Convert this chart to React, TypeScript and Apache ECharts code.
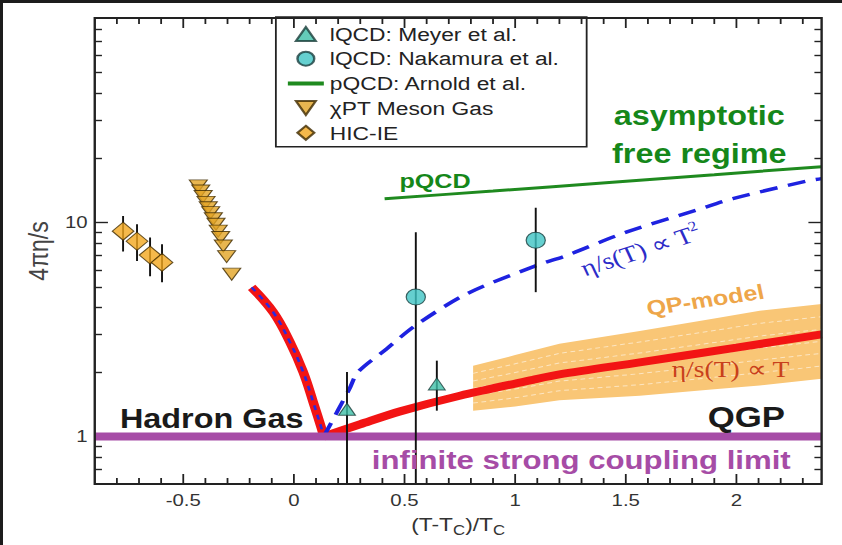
import React, { useEffect, useRef } from "react";
import * as echarts from "echarts";

// ---------- data ----------
const X_MIN = -0.9;
const X_MAX = 2.385;
const Y_MIN = 0.6;
const Y_MAX = 90;

const X_MAJOR = [-0.5, 0, 0.5, 1, 1.5, 2];
const X_MINOR = [-0.8, -0.7, -0.6, -0.4, -0.3, -0.2, -0.1, 0.1, 0.2, 0.3, 0.4, 0.6, 0.7, 0.8, 0.9, 1.1, 1.2, 1.3, 1.4, 1.6, 1.7, 1.8, 1.9, 2.1, 2.2, 2.3];
const Y_MAJOR = [1, 10];
const Y_MINOR = [0.7, 0.8, 0.9, 2, 3, 4, 5, 6, 7, 8, 9, 20, 30, 40, 50, 60, 70, 80];

// lQCD: Meyer et al.
const MEYER_X = [0.24, 0.646];
const MEYER_Y = [1.34, 1.76];
const MEYER_LO = [0.3, 1.32];
const MEYER_HI = [2.0, 2.26];

// lQCD: Nakamura et al.
const NAKA_X = [0.551, 1.093];
const NAKA_Y = [4.48, 8.25];
const NAKA_LO = [0.3, 4.72];
const NAKA_HI = [9.0, 11.7];

// pQCD: Arnold et al.
const PQCD_X = [0.41, 0.9, 1.44, 1.9, 2.385];
const PQCD_Y = [12.9, 14.0, 15.4, 16.7, 18.2];

// chiPT meson gas
const CHI_X = [-0.432, -0.421, -0.41, -0.397, -0.387, -0.376, -0.364, -0.352, -0.342, -0.331, -0.319, -0.304, -0.281];
const CHI_Y = [14.8, 14.0, 13.2, 12.4, 11.7, 11.1, 10.4, 9.8, 9.1, 8.5, 7.76, 6.92, 5.73];

// HIC-IE
const HIC_X = [-0.772, -0.709, -0.65, -0.596];
const HIC_Y = [9.09, 8.16, 7.03, 6.5];
const HIC_LO = [7.3, 6.6, 5.6, 5.25];
const HIC_HI = [10.7, 9.8, 8.5, 7.9];

// eta/s curves
const HADRON_X = [-0.191, -0.093, -0.018, 0.042, 0.087, 0.125, 0.135];
const HADRON_Y = [4.97, 3.8, 2.76, 2.0, 1.45, 1.09, 1.0];
const LIN_X = [0.135, 0.3, 0.48, 0.75, 1.08, 1.2, 1.563, 2.0, 2.385];
const LIN_Y = [1.0, 1.14, 1.31, 1.55, 1.84, 1.95, 2.22, 2.6, 3.0];
const QUAD_X = [0.135, 0.25, 0.29, 0.42, 0.546, 0.78, 1.098, 1.232, 1.502, 1.819, 1.984, 2.32, 2.385];
const QUAD_Y = [1.0, 1.66, 2.0, 2.57, 3.28, 4.63, 6.3, 7.0, 9.0, 11.4, 12.9, 15.6, 16.0];

// QP-model band
const BAND_X = [0.81, 1.0, 1.2, 1.563, 1.9, 2.105, 2.385];
const BAND_LO = [1.32, 1.38, 1.475, 1.55, 1.66, 1.73, 1.86];
const BAND_HI = [2.14, 2.4, 2.71, 3.11, 3.56, 3.87, 4.16];

// strong coupling limit
const LIMIT_X = [X_MIN, X_MAX];
const LIMIT_Y = [1, 1];

const LEGEND_NAMES = [
  "lQCD: Meyer et al.",
  "lQCD: Nakamura et al.",
  "pQCD: Arnold et al.",
  "χPT Meson Gas",
  "HIC-IE",
];

// ---------- layout ----------
const W = 842;
const H = 545;
const CW = 702; // un-stretched chart width, stretched horizontally to W
const SANS = "'Liberation Sans', Arial, sans-serif";
const SERIF = "'Liberation Serif', 'Times New Roman', serif";

const SYM_UP = "path://M5,0L10,8.5L0,8.5Z";
const SYM_DOWN = "path://M0,0L10,0L5,8.5Z";
const SYM_CIRCLE = "path://M10,5A5,5,0,1,1,0,5A5,5,0,1,1,10,5Z";
const SYM_DIAMOND = "path://M5,0L10,5L5,10L0,5Z";

const L = (v: number) => Math.log10(v);
const pts = (xs: number[], ys: number[]) => xs.map((x, i) => [x, L(ys[i])]);

function renderBand(params: any, api: any) {
  if (params.dataIndex !== 0) return null;
  const lo = BAND_X.map((x, i) => api.coord([x, L(BAND_LO[i])]));
  const hi = BAND_X.map((x, i) => api.coord([x, L(BAND_HI[i])]));
  const children: any[] = [
    {
      type: "polygon",
      shape: { points: lo.concat(hi.slice().reverse()) },
      style: { fill: "#f9c676" },
    },
  ];
  [0.17, 0.34, 0.5, 0.66, 0.83].forEach((t) => {
    const line = lo.map((p: number[], i: number) => [p[0] + (hi[i][0] - p[0]) * t, p[1] + (hi[i][1] - p[1]) * t]);
    children.push({
      type: "polyline",
      shape: { points: line },
      style: { stroke: "rgba(255,255,255,0.55)", lineWidth: 1, lineDash: [4, 3], fill: null },
    });
  });
  return { type: "group", children };
}

function renderErr(_params: any, api: any) {
  const x = api.value(0);
  const a = api.coord([x, api.value(1)]);
  const b = api.coord([x, api.value(2)]);
  return {
    type: "line",
    shape: { x1: a[0], y1: a[1], x2: b[0], y2: b[1] },
    style: { stroke: "#111", lineWidth: 1.6 },
  };
}

// plot frame plus x tick marks, everything placed through the axis scales
function renderFrame(params: any, api: any) {
  if (params.dataIndex !== 0) return null;
  const a = api.coord([X_MIN, L(Y_MAX)]);
  const b = api.coord([X_MAX, L(Y_MIN)]);
  const children: any[] = [
    {
      type: "rect",
      shape: { x: a[0], y: a[1], width: b[0] - a[0], height: b[1] - a[1] },
      style: { fill: "none", stroke: "#222", lineWidth: 2 },
    },
  ];
  const addTicks = (xs: number[], len: number) => {
    xs.forEach((x) => {
      const px = api.coord([x, L(Y_MIN)])[0];
      children.push({ type: "line", shape: { x1: px, y1: b[1], x2: px, y2: b[1] - len }, style: { stroke: "#222", lineWidth: 1.5 } });
      children.push({ type: "line", shape: { x1: px, y1: a[1], x2: px, y2: a[1] + len }, style: { stroke: "#222", lineWidth: 1.5 } });
    });
  };
  addTicks(X_MAJOR, 10);
  addTicks(X_MINOR, 6);
  return { type: "group", children };
}

const errData = [
  ...MEYER_X.map((x, i) => [x, L(MEYER_LO[i]), L(MEYER_HI[i])]),
  ...NAKA_X.map((x, i) => [x, L(NAKA_LO[i]), L(NAKA_HI[i])]),
  ...HIC_X.map((x, i) => [x, L(HIC_LO[i]), L(HIC_HI[i])]),
];

const tickStyle = { color: "#222", width: 1.4 };

const xAxisMain: any = {
  type: "value",
  min: X_MIN,
  max: X_MAX,
  position: "bottom",
  axisLine: { show: false, onZero: false },
  axisTick: { show: false },
  axisLabel: {
    show: true,
    customValues: X_MAJOR.slice(),
    formatter: (v: number) => String(v),
    margin: 8,
    fontSize: 17,
    color: "#333",
    fontFamily: SANS,
  },
  splitLine: { show: false },
  name: "(T-T{s|C})/T{s|C}",
  nameLocation: "middle",
  nameGap: 27,
  nameTextStyle: {
    fontSize: 19,
    color: "#333",
    fontFamily: SANS,
    rich: { s: { fontSize: 14, color: "#333", fontFamily: SANS, padding: [12, 0, 0, 0] } },
  },
};

function yAxis(position: string, major: boolean, labels: boolean): any {
  return {
    type: "value",
    min: L(Y_MIN),
    max: L(Y_MAX),
    position,
    axisLine: { show: false, onZero: false },
    axisTick: {
      show: true,
      inside: true,
      length: major ? 11 : 6,
      customValues: (major ? Y_MAJOR : Y_MINOR).map(L),
      lineStyle: tickStyle,
    },
    axisLabel: labels
      ? {
          show: true,
          customValues: Y_MAJOR.map(L),
          formatter: (v: number) => String(Math.round(Math.pow(10, v))),
          margin: 6,
          fontSize: 17,
          color: "#333",
          fontFamily: SANS,
        }
      : { show: false },
    splitLine: { show: false },
    ...(labels
      ? {
          name: "4πη/s",
          nameLocation: "middle",
          nameRotate: 90,
          nameGap: 34,
          nameTextStyle: { fontSize: 23, color: "#444", fontFamily: SANS },
        }
      : {}),
  };
}

const lineBase = { type: "line", showSymbol: false, symbol: "none", silent: true, emphasis: { disabled: true } };

const option: any = {
  animation: false,
  backgroundColor: "#fff",
  grid: { show: false, left: 79, top: 18, width: 606, height: 466, containLabel: false },
  xAxis: [xAxisMain],
  yAxis: [yAxis("left", true, true), yAxis("left", false, false), yAxis("right", true, false), yAxis("right", false, false)],
  legend: {
    orient: "vertical",
    left: 230,
    top: 17,
    data: [
      LEGEND_NAMES[0],
      LEGEND_NAMES[1],
      { name: LEGEND_NAMES[2], itemStyle: { opacity: 0, color: "transparent", borderWidth: 0 }, lineStyle: { width: 4 } },
      LEGEND_NAMES[3],
      LEGEND_NAMES[4],
    ],
    itemWidth: 30,
    itemHeight: 14,
    itemGap: 4.7,
    padding: [7, 23, 4, 8],
    borderColor: "#222",
    borderWidth: 1.5,
    backgroundColor: "#fff",
    selectedMode: false,
    symbolKeepAspect: true,
    textStyle: { fontSize: 19, fontFamily: SANS, color: "#222", lineHeight: 20 },
  },
  series: [
    {
      type: "custom",
      name: "QP-model band",
      renderItem: renderBand,
      data: BAND_X.map((x, i) => [x, L(BAND_LO[i]), L(BAND_HI[i])]),
      encode: { x: 0, y: [1, 2] },
      clip: true,
      silent: true,
      z: 1,
    },
    { ...lineBase, name: "pQCD: Arnold et al.", data: pts(PQCD_X, PQCD_Y), smooth: 0.3, lineStyle: { color: "#1f8a1f", width: 3 }, itemStyle: { color: "#1f8a1f" }, z: 3 },
    { ...lineBase, name: "η/s ∝ T (hadron)", data: pts(HADRON_X, HADRON_Y), smooth: 0.4, lineStyle: { color: "#f21414", width: 8, cap: "butt" }, z: 3 },
    { ...lineBase, name: "η/s ∝ T", data: pts(LIN_X, LIN_Y), smooth: 0.3, lineStyle: { color: "#f21414", width: 8, cap: "butt" }, z: 3 },
    { ...lineBase, name: "η/s ∝ T² (hadron)", data: pts(HADRON_X, HADRON_Y), smooth: 0.4, lineStyle: { color: "#2a2ae0", width: 2.2, type: [5, 5] }, z: 4 },
    { ...lineBase, name: "η/s ∝ T²", data: pts(QUAD_X, QUAD_Y), smooth: 0.3, lineStyle: { color: "#1e22e0", width: 3.5, type: [15, 9] }, z: 4 },
    { ...lineBase, name: "strong coupling limit", data: pts(LIMIT_X, LIMIT_Y), lineStyle: { color: "#a64ca6", width: 8 }, z: 5 },
    {
      type: "custom",
      name: "error bars",
      renderItem: renderErr,
      data: errData,
      encode: { x: 0, y: [1, 2] },
      clip: true,
      silent: true,
      z: 6,
    },
    {
      type: "scatter",
      name: LEGEND_NAMES[0],
      data: pts(MEYER_X, MEYER_Y),
      symbol: SYM_UP,
      symbolSize: [14, 12],
      itemStyle: { color: "#3dbfa8", borderColor: "#1a3d3a", borderWidth: 1 },
      z: 7,
    },
    {
      type: "scatter",
      name: LEGEND_NAMES[1],
      data: pts(NAKA_X, NAKA_Y),
      symbol: SYM_CIRCLE,
      symbolSize: [16, 16],
      itemStyle: { color: "#3ec4c4", borderColor: "#1a3d3d", borderWidth: 1 },
      z: 7,
    },
    {
      type: "scatter",
      name: LEGEND_NAMES[3],
      data: pts(CHI_X, CHI_Y),
      symbol: SYM_DOWN,
      symbolSize: [15, 12],
      itemStyle: { color: "#e2a424", borderColor: "#3f2a00", borderWidth: 1 },
      z: 7,
    },
    {
      type: "scatter",
      name: LEGEND_NAMES[4],
      data: pts(HIC_X, HIC_Y),
      symbol: SYM_DIAMOND,
      symbolSize: [18, 18],
      itemStyle: { color: "#f2a81e", borderColor: "#3f2a00", borderWidth: 1 },
      z: 7,
    },
    {
      type: "custom",
      name: "frame",
      renderItem: renderFrame,
      data: [[X_MIN, L(Y_MIN)]],
      clip: false,
      silent: true,
      z: 9,
    },
  ],
  graphic: [
    { type: "text", x: 583, y: 115, z: 100, style: { text: "asymptotic", align: "center", verticalAlign: "middle", fontSize: 27, fontWeight: "bold", fontFamily: SANS, fill: "#15871a" } },
    { type: "text", x: 583, y: 153, z: 100, style: { text: "free regime", align: "center", verticalAlign: "middle", fontSize: 27, fontWeight: "bold", fontFamily: SANS, fill: "#15871a" } },
    { type: "text", x: 333, y: 181, z: 100, style: { text: "pQCD", align: "left", verticalAlign: "middle", fontSize: 21, fontWeight: "bold", fontFamily: SANS, fill: "#15871a" } },
    { type: "text", x: 100, y: 418, z: 100, style: { text: "Hadron Gas", align: "left", verticalAlign: "middle", fontSize: 27, fontWeight: "bold", fontFamily: SANS, fill: "#1a1a1a" } },
    { type: "text", x: 590, y: 417, z: 100, style: { text: "QGP", align: "left", verticalAlign: "middle", fontSize: 29, fontWeight: "bold", fontFamily: SANS, fill: "#1a1a1a" } },
    { type: "text", x: 310, y: 460, z: 100, style: { text: "infinite strong coupling limit", align: "left", verticalAlign: "middle", fontSize: 26, fontWeight: "bold", fontFamily: SANS, fill: "#a64ca6" } },
    { type: "text", x: 588, y: 300, rotation: (10 * Math.PI) / 180, z: 100, style: { text: "QP-model", align: "center", verticalAlign: "middle", fontSize: 21, fontWeight: "bold", fontFamily: SANS, fill: "#eea64a" } },
    {
      type: "text",
      x: 534,
      y: 250,
      rotation: (21 * Math.PI) / 180,
      z: 100,
      style: {
        text: "{a|η/s(T) ∝ T}{b|2}",
        align: "center",
        verticalAlign: "middle",
        rich: {
          a: { fontSize: 23, fontFamily: SERIF, fill: "#2c2cc8", lineHeight: 28 },
          b: { fontSize: 14, fontFamily: SERIF, fill: "#2c2cc8", verticalAlign: "top" },
        },
      },
    },
    { type: "text", x: 560, y: 369, z: 100, style: { text: "η/s(T) ∝ T", align: "left", verticalAlign: "middle", fontSize: 23, fontFamily: SERIF, fill: "#c8401c" } },
  ],
};

export default function App() {
  const ref = useRef<HTMLDivElement>(null);
  useEffect(() => {
    const chart = echarts.init(ref.current!, null, { renderer: "svg" });
    chart.setOption(option);
    return () => chart.dispose();
  }, []);
  return (
    <div style={{ position: "fixed", left: 0, top: 0, width: W, height: H, overflow: "hidden", background: "#fff" }}>
      <div
        ref={ref}
        style={{ position: "absolute", left: 0, top: 0, width: CW, height: H, transform: `scaleX(${W / CW})`, transformOrigin: "0 0" }}
      />
      <div style={{ position: "absolute", left: 0, top: 0, width: W, height: 3, background: "#1c1c1c" }} />
      <div style={{ position: "absolute", left: 0, top: 0, width: 3, height: H, background: "#1c1c1c" }} />
    </div>
  );
}
